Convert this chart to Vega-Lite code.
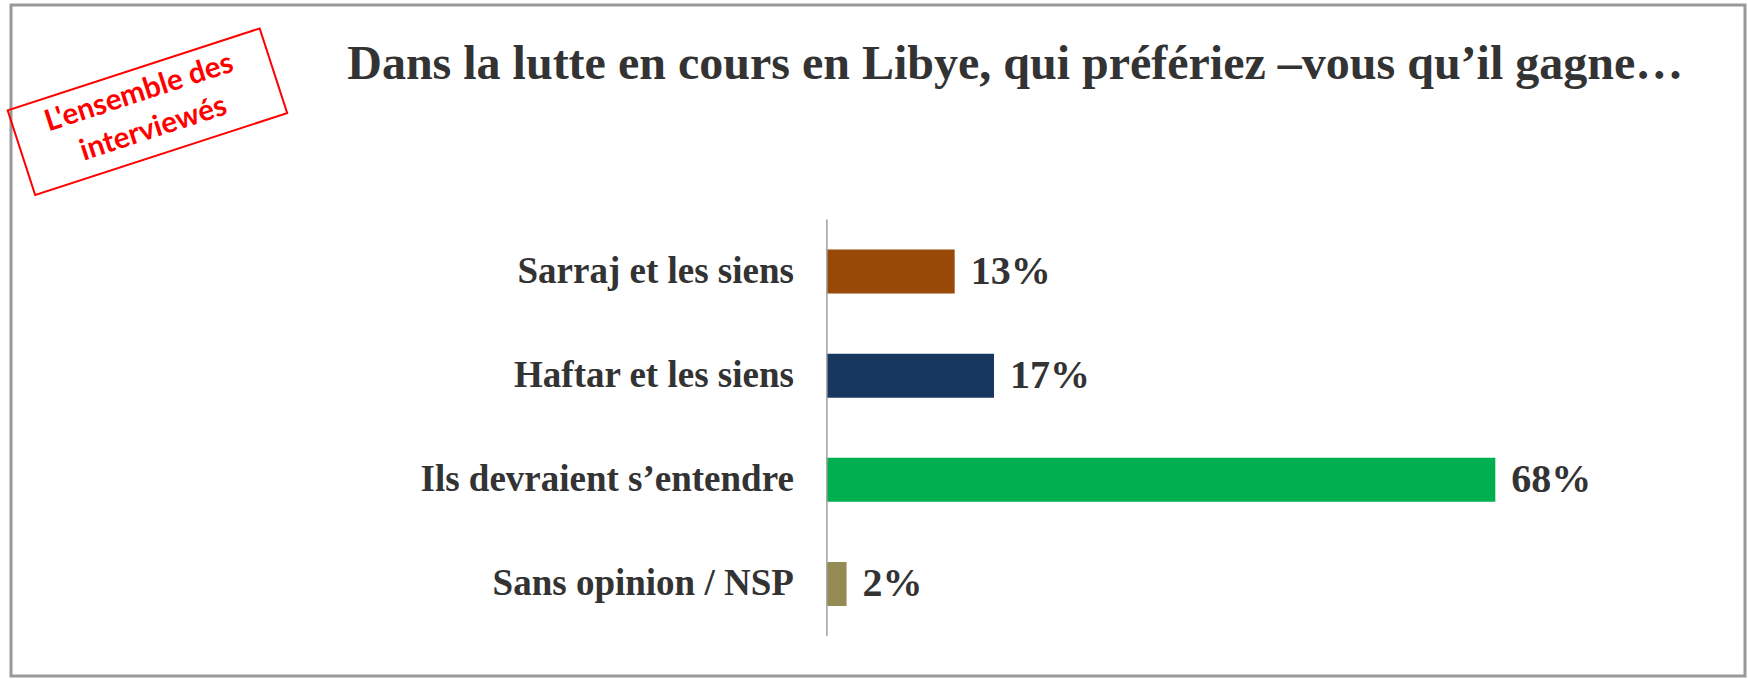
{
  "$schema": "https://vega.github.io/schema/vega-lite/v6.json",
  "autosize": {"type": "none"},
  "width": 1734,
  "height": 671,
  "padding": {"left": 11, "top": 5, "right": 3, "bottom": 3},
  "background": "white",
  "config": {"view": {"stroke": "#999999", "strokeWidth": 3}},
  "data": {
    "values": [
      {"reponse": "Sarraj et les siens", "pct": 13, "ordre": 1},
      {"reponse": "Haftar et les siens", "pct": 17, "ordre": 2},
      {"reponse": "Ils devraient s’entendre", "pct": 68, "ordre": 3},
      {"reponse": "Sans opinion / NSP", "pct": 2, "ordre": 4}
    ]
  },
  "layer": [
    {
      "mark": {"type": "bar", "orient": "horizontal", "height": 44},
      "encoding": {
        "x": {"field": "pct", "type": "quantitative", "scale": {"type": "linear", "domain": [-83, 93.4], "nice": false, "zero": false}, "axis": null},
        "x2": {"datum": 0},
        "y": {"field": "ordre", "type": "quantitative", "scale": {"type": "linear", "domain": [-1.512, 4.836], "reverse": true, "nice": false, "zero": false}, "axis": null},
        "color": {
          "field": "reponse",
          "type": "nominal",
          "scale": {
            "domain": ["Sarraj et les siens", "Haftar et les siens", "Ils devraient s’entendre", "Sans opinion / NSP"],
            "range": ["#984807", "#17375e", "#00b050", "#948a54"]
          },
          "legend": null
        }
      }
    },
    {
      "transform": [{"calculate": "datum.pct + '%'", "as": "etiquette"}],
      "mark": {"type": "text", "align": "left", "baseline": "middle", "dx": 16, "font": "Liberation Serif", "fontWeight": "bold", "fontSize": 40, "fill": "#333333"},
      "encoding": {
        "x": {"field": "pct", "type": "quantitative", "scale": {"type": "linear", "domain": [-83, 93.4], "nice": false, "zero": false}, "axis": null},
        "y": {"field": "ordre", "type": "quantitative", "scale": {"type": "linear", "domain": [-1.512, 4.836], "reverse": true, "nice": false, "zero": false}, "axis": null},
        "text": {"field": "etiquette", "type": "nominal"}
      }
    },
    {
      "mark": {"type": "text", "align": "right", "baseline": "middle", "dx": -33, "font": "Liberation Serif", "fontWeight": "bold", "fontSize": 37, "fill": "#333333"},
      "encoding": {
        "x": {"datum": 0, "type": "quantitative", "scale": {"type": "linear", "domain": [-83, 93.4], "nice": false, "zero": false}, "axis": null},
        "y": {"field": "ordre", "type": "quantitative", "scale": {"type": "linear", "domain": [-1.512, 4.836], "reverse": true, "nice": false, "zero": false}, "axis": null},
        "text": {"field": "reponse", "type": "nominal"}
      }
    },
    {
      "data": {"values": [{}]},
      "mark": {"type": "rule", "stroke": "#a0a0a0", "strokeWidth": 1.5},
      "encoding": {
        "x": {"datum": 0, "type": "quantitative", "scale": {"type": "linear", "domain": [-83, 93.4], "nice": false, "zero": false}, "axis": null},
        "y": {"datum": 0.5, "type": "quantitative", "scale": {"type": "linear", "domain": [-1.512, 4.836], "reverse": true, "nice": false, "zero": false}, "axis": null},
        "y2": {"datum": 4.5}
      }
    },
    {
      "data": {"values": [{"titre": "Dans la lutte en cours en Libye, qui préfériez –vous qu’il gagne…"}]},
      "mark": {"type": "text", "align": "center", "baseline": "alphabetic", "font": "Liberation Serif", "fontWeight": "bold", "fontSize": 48, "fill": "#333333"},
      "encoding": {
        "x": {"datum": 19.16, "type": "quantitative", "scale": {"type": "linear", "domain": [-83, 93.4], "nice": false, "zero": false}, "axis": null},
        "y": {"datum": -0.85, "type": "quantitative", "scale": {"type": "linear", "domain": [-1.512, 4.836], "reverse": true, "nice": false, "zero": false}, "axis": null},
        "text": {"field": "titre", "type": "nominal"}
      }
    },
    {
      "data": {"values": [{"cadre": "cartouche"}]},
      "mark": {"type": "point", "shape": "M-1,-0.336L1,-0.336L1,0.336L-1,0.336Z", "size": 70225, "angle": -18, "filled": false, "stroke": "#ff0000", "strokeWidth": 2, "opacity": 1},
      "encoding": {
        "x": {"datum": -69.12, "type": "quantitative", "scale": {"type": "linear", "domain": [-83, 93.4], "nice": false, "zero": false}, "axis": null},
        "y": {"datum": -0.5355, "type": "quantitative", "scale": {"type": "linear", "domain": [-1.512, 4.836], "reverse": true, "nice": false, "zero": false}, "axis": null}
      }
    },
    {
      "data": {"values": [{"ligne": "L'ensemble des"}]},
      "mark": {"type": "text", "align": "center", "baseline": "alphabetic", "angle": -18, "font": "Lato", "fontWeight": "bold", "fontSize": 29.5, "fill": "#ff0000"},
      "encoding": {
        "x": {"datum": -69.7, "type": "quantitative", "scale": {"type": "linear", "domain": [-83, 93.4], "nice": false, "zero": false}, "axis": null},
        "y": {"datum": -0.637, "type": "quantitative", "scale": {"type": "linear", "domain": [-1.512, 4.836], "reverse": true, "nice": false, "zero": false}, "axis": null},
        "text": {"field": "ligne", "type": "nominal"}
      }
    },
    {
      "data": {"values": [{"ligne": "interviewés"}]},
      "mark": {"type": "text", "align": "center", "baseline": "alphabetic", "angle": -18, "font": "Lato", "fontWeight": "bold", "fontSize": 29.5, "fill": "#ff0000"},
      "encoding": {
        "x": {"datum": -68.23, "type": "quantitative", "scale": {"type": "linear", "domain": [-83, 93.4], "nice": false, "zero": false}, "axis": null},
        "y": {"datum": -0.291, "type": "quantitative", "scale": {"type": "linear", "domain": [-1.512, 4.836], "reverse": true, "nice": false, "zero": false}, "axis": null},
        "text": {"field": "ligne", "type": "nominal"}
      }
    }
  ]
}
